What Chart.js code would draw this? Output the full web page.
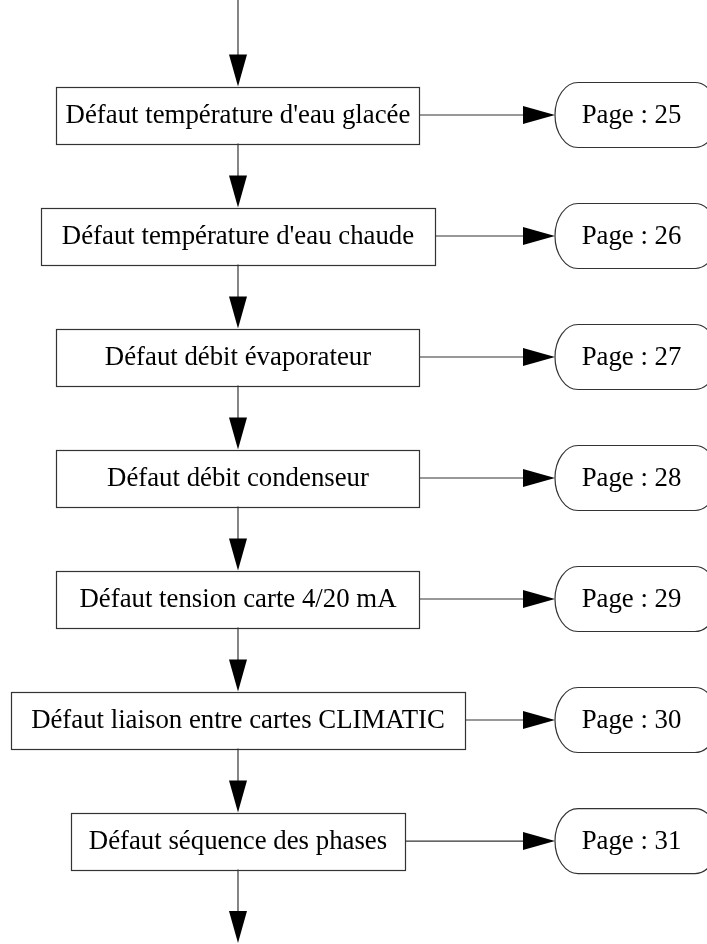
<!DOCTYPE html>
<html lang="fr">
<head>
<meta charset="utf-8">
<title>Défauts - renvois de pages</title>
<script src="https://cdn.jsdelivr.net/npm/chart.js@4.4.1/dist/chart.umd.min.js"></script>
<style>
  html, body { margin: 0; padding: 0; background: #fff; }
  #wrap { width: 707px; height: 944px; }
</style>
</head>
<body>
<div id="wrap"><canvas id="flow" width="707" height="944"></canvas></div>
<script>
'use strict';

// Etapes du diagnostic, de haut en bas
const steps = [
  'Défaut température d\'eau glacée',
  'Défaut température d\'eau chaude',
  'Défaut débit évaporateur',
  'Défaut débit condenseur',
  'Défaut tension carte 4/20 mA',
  'Défaut liaison entre cartes CLIMATIC',
  'Défaut séquence des phases',
];
// Page de renvoi pour chaque étape
const pages = [25, 26, 27, 28, 29, 30, 31];
// colonnes : 0 = étape, 1 = renvoi
const columns = ['étape', 'renvoi'];

// mise en page (px)
const BOX_W  = [363, 394, 363, 363, 363, 454, 334];
const BOX_H  = 57;
const PILL_W = 163;
const PILL_H = 65;
const PILL_R = 23;
const HEAD_L = 32;
const HEAD_W = 9;
const LINE   = '#333';
const FONT   = '26.8px "Liberation Serif", "Times New Roman", Times, serif';

function arrowHead(ctx, tx, ty, dir) {
  // dir: 'down' or 'right', tip at (tx, ty)
  ctx.beginPath();
  if (dir === 'down') {
    ctx.moveTo(tx, ty);
    ctx.lineTo(tx - HEAD_W, ty - HEAD_L);
    ctx.lineTo(tx + HEAD_W, ty - HEAD_L);
  } else {
    ctx.moveTo(tx, ty);
    ctx.lineTo(tx - HEAD_L, ty - HEAD_W);
    ctx.lineTo(tx - HEAD_L, ty + HEAD_W);
  }
  ctx.closePath();
  ctx.fillStyle = '#000';
  ctx.fill();
}

function line(ctx, x1, y1, x2, y2) {
  ctx.beginPath();
  ctx.moveTo(x1, y1);
  ctx.lineTo(x2, y2);
  ctx.stroke();
}

function pill(ctx, cx, cy) {
  const l = cx - PILL_W / 2, r = cx + PILL_W / 2;
  const t = cy - PILL_H / 2, b = cy + PILL_H / 2;
  const ry = PILL_H / 2;
  ctx.beginPath();
  ctx.moveTo(l + PILL_R, t);
  ctx.lineTo(r - PILL_R, t);
  ctx.ellipse(r - PILL_R, cy, PILL_R, ry, 0, -Math.PI / 2, Math.PI / 2);
  ctx.lineTo(l + PILL_R, b);
  ctx.ellipse(l + PILL_R, cy, PILL_R, ry, 0, Math.PI / 2, Math.PI * 1.5);
  ctx.closePath();
  ctx.fillStyle = '#fff';
  ctx.fill();
  ctx.stroke();
}

const flowPlugin = {
  id: 'flow',
  afterDatasetsDraw(chart) {
    const ctx = chart.ctx;
    const area = chart.chartArea;
    const boxes = chart.getDatasetMeta(0).data;
    const refs  = chart.getDatasetMeta(1).data;
    ctx.save();
    ctx.strokeStyle = LINE;
    ctx.lineWidth = 1.2;
    ctx.font = FONT;
    ctx.textAlign = 'center';
    ctx.textBaseline = 'alphabetic';

    boxes.forEach((pt, i) => {
      const cx = pt.x, cy = pt.y;
      const top = cy - BOX_H / 2, bot = cy + BOX_H / 2;
      const w = BOX_W[i];

      // flèche d'entrée
      const fromY = i === 0 ? area.top : boxes[i - 1].y + BOX_H / 2;
      line(ctx, cx, fromY, cx, top - HEAD_L + 2);
      arrowHead(ctx, cx, top, 'down');

      // boîte
      ctx.fillStyle = '#fff';
      ctx.fillRect(cx - w / 2, top, w, BOX_H);
      ctx.strokeRect(Math.round(cx - w / 2) + 0.5, Math.round(top) + 0.5, Math.round(w), BOX_H);
      ctx.fillStyle = '#000';
      ctx.fillText(steps[i], cx, cy + 8);

      // flèche vers le renvoi
      const ref = refs[i];
      const pl = ref.x - PILL_W / 2;
      line(ctx, cx + w / 2, cy, pl - HEAD_L + 2, cy);
      arrowHead(ctx, pl, cy, 'right');
      pill(ctx, ref.x, ref.y);
      ctx.fillStyle = '#000';
      ctx.fillText('Page : ' + pages[i], ref.x - 5, ref.y + 8);

      // sortie finale
      if (i === boxes.length - 1) {
        const tip = area.bottom - 1;
        line(ctx, cx, bot, cx, tip - HEAD_L + 2);
        arrowHead(ctx, cx, tip, 'down');
      }
    });
    ctx.restore();
  },
};

new Chart(document.getElementById('flow'), {
  type: 'scatter',
  data: {
    datasets: [
      {
        label: columns[0],
        data: steps.map((s, i) => ({ x: 0, y: i })),
        pointRadius: 0,
      },
      {
        label: columns[1],
        data: pages.map((p, i) => ({ x: 1, y: i })),
        pointRadius: 0,
      },
    ],
  },
  options: {
    responsive: false,
    animation: false,
    events: [],
    layout: { padding: 0 },
    plugins: { legend: { display: false }, tooltip: { enabled: false } },
    scales: {
      // colonne 0 -> x 238 px, colonne 1 -> x 636.5 px
      x: { type: 'linear', display: false, min: -0.5972, max: 1.1769 },
      // rangées espacées de 121 px, la première centrée à 115 px
      y: { type: 'linear', display: false, reverse: true, min: -0.9504, max: 6.851 },
    },
  },
  plugins: [flowPlugin],
});
</script>
</body>
</html>
